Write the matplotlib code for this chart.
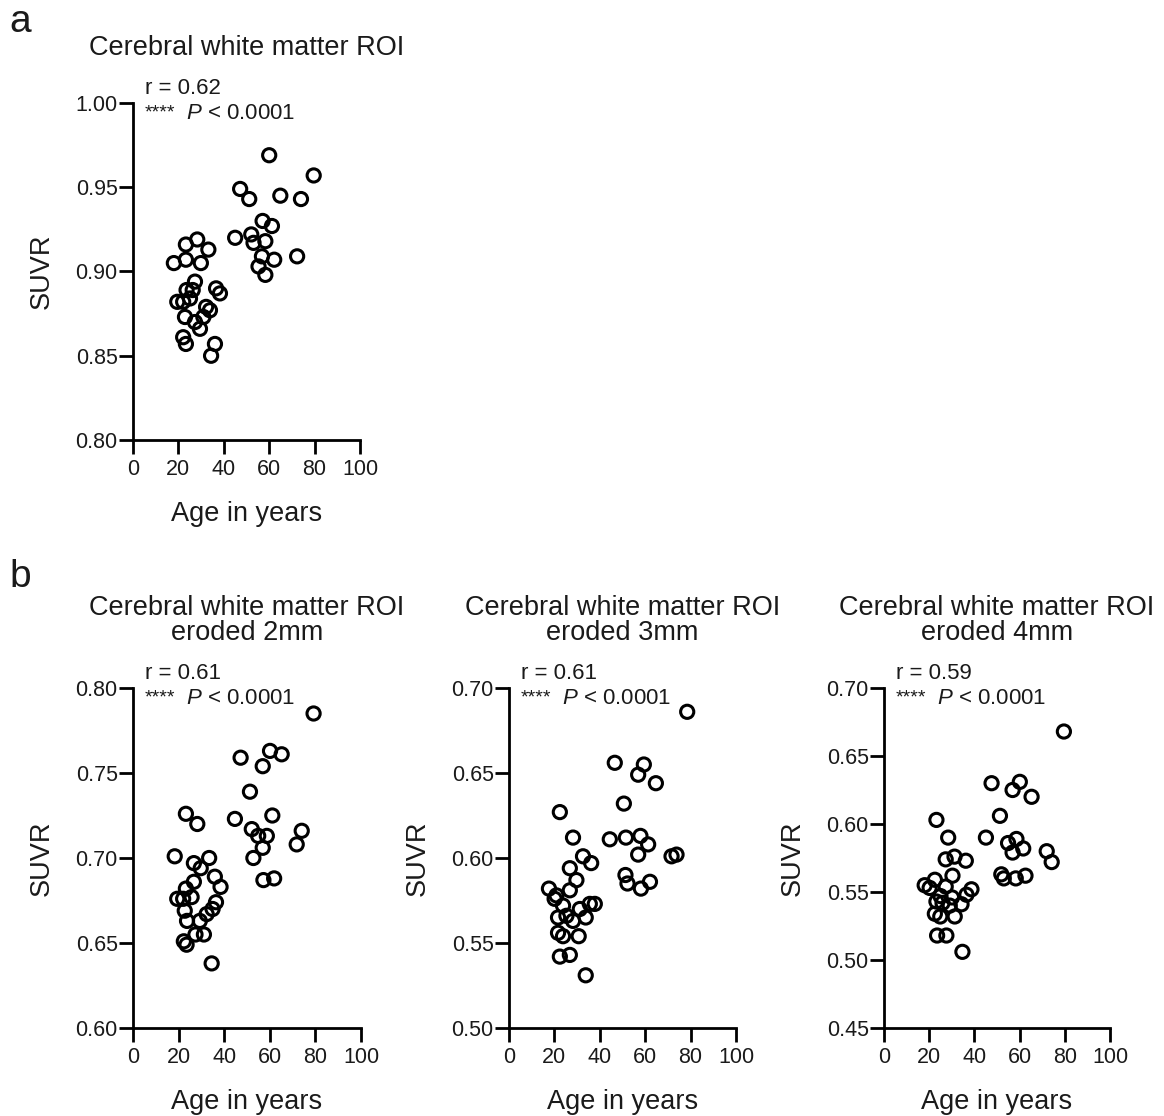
import matplotlib
matplotlib.use("Agg")
import matplotlib.pyplot as plt

plt.rcParams['font.family'] = ['Liberation Sans', 'DejaVu Sans']
plt.rcParams['mathtext.fontset'] = 'custom'
plt.rcParams['mathtext.rm'] = 'Liberation Sans'
plt.rcParams['mathtext.it'] = 'Liberation Sans:italic'

W, H = 1164, 1116
TXT = '#1a1a1a'

# panel a: cerebral white matter ROI
age_a = [60.0, 79.6, 47.2, 51.2, 64.9, 74.0, 57.1, 61.2, 45.0, 52.1, 53.1, 58.3,
         56.8, 62.2, 55.3, 58.3, 72.3,
         23.3, 28.3, 33.2, 18.0, 23.3, 29.9, 27.3, 23.6, 36.6, 38.3, 19.5, 22.1,
         25.1, 32.2, 33.9, 22.9, 27.3, 29.5, 31.0, 22.1, 23.3, 36.1, 34.4, 26.3]
suvr_a = [0.969, 0.957, 0.949, 0.943, 0.945, 0.943, 0.930, 0.927, 0.920, 0.922, 0.917, 0.918,
          0.909, 0.907, 0.903, 0.898, 0.909,
          0.916, 0.919, 0.913, 0.905, 0.907, 0.905, 0.894, 0.889, 0.890, 0.887, 0.882, 0.882,
          0.884, 0.879, 0.877, 0.873, 0.870, 0.866, 0.873, 0.861, 0.857, 0.857, 0.850, 0.889]

# panel b: eroded 2mm
age_b2 = [79.2, 47.2, 60.1, 65.2, 56.9, 51.3, 44.7, 61.1, 52.1, 54.9, 58.7, 56.9,
          52.8, 57.2, 61.9, 74.0, 71.8,
          23.2, 28.2, 18.3, 26.7, 29.7, 33.4, 35.9, 38.4, 26.7, 23.2, 19.4, 22.0,
          25.7, 36.4, 22.7, 34.9, 32.3, 23.7, 29.3, 27.4, 31.1, 22.3, 23.5, 34.5]
suvr_b2 = [0.785, 0.759, 0.763, 0.761, 0.754, 0.739, 0.723, 0.725, 0.717, 0.713, 0.713, 0.706,
           0.700, 0.687, 0.688, 0.716, 0.708,
           0.726, 0.720, 0.701, 0.697, 0.694, 0.700, 0.689, 0.683, 0.686, 0.682, 0.676, 0.676,
           0.677, 0.674, 0.669, 0.670, 0.667, 0.663, 0.663, 0.655, 0.655, 0.651, 0.649, 0.638]

# panel b: eroded 3mm
age_b3 = [78.5, 46.6, 59.4, 56.9, 64.7, 50.6, 44.4, 51.5, 57.9, 61.3, 56.9, 71.6,
          73.8, 51.3, 52.2, 58.1, 62.1,
          22.4, 28.2, 32.6, 36.2, 26.8, 29.7, 17.6, 20.9, 20.1, 26.8, 23.8, 31.2,
          35.6, 37.8, 33.8, 21.6, 25.3, 28.2, 21.6, 23.8, 30.7, 22.4, 26.8, 33.8]
suvr_b3 = [0.686, 0.656, 0.655, 0.649, 0.644, 0.632, 0.611, 0.612, 0.613, 0.608, 0.602, 0.601,
           0.602, 0.590, 0.585, 0.582, 0.586,
           0.627, 0.612, 0.601, 0.597, 0.594, 0.587, 0.582, 0.578, 0.576, 0.581, 0.572, 0.570,
           0.573, 0.573, 0.565, 0.565, 0.566, 0.563, 0.556, 0.554, 0.554, 0.542, 0.543, 0.531]

# panel b: eroded 4mm
age_b4 = [79.6, 47.6, 60.1, 56.9, 65.3, 51.3, 45.1, 54.9, 58.6, 61.6, 56.9, 72.0,
          74.2, 51.9, 53.0, 58.3, 62.6,
          23.2, 28.4, 27.3, 31.2, 36.2, 30.3, 18.0, 22.5, 20.2, 27.3, 38.7, 36.5,
          23.2, 25.9, 30.1, 34.3, 22.5, 24.9, 31.3, 29.1, 23.5, 27.6, 34.7, 25.0]
suvr_b4 = [0.668, 0.630, 0.631, 0.625, 0.620, 0.606, 0.590, 0.586, 0.589, 0.582, 0.579, 0.580,
           0.572, 0.563, 0.560, 0.560, 0.562,
           0.603, 0.590, 0.574, 0.576, 0.573, 0.562, 0.555, 0.559, 0.553, 0.554, 0.552, 0.548,
           0.543, 0.542, 0.546, 0.541, 0.534, 0.532, 0.532, 0.540, 0.518, 0.518, 0.506, 0.547]

panels = [
    dict(x=age_a, y=suvr_a, title="Cerebral white matter ROI", r="0.62",
         ylim=(0.80, 1.00), box=(133, 103, 360, 440)),
    dict(x=age_b2, y=suvr_b2, title="Cerebral white matter ROI\neroded 2mm", r="0.61",
         ylim=(0.60, 0.80), box=(133, 688, 361, 1028)),
    dict(x=age_b3, y=suvr_b3, title="Cerebral white matter ROI\neroded 3mm", r="0.61",
         ylim=(0.50, 0.70), box=(509, 688, 736, 1028)),
    dict(x=age_b4, y=suvr_b4, title="Cerebral white matter ROI\neroded 4mm", r="0.59",
         ylim=(0.45, 0.70), box=(884, 688, 1110, 1028)),
]


def fx(px):
    return px / W


def fy(py):
    return 1 - py / H


fig = plt.figure(figsize=(W / 100, H / 100), dpi=100)

for p in panels:
    x0, y0, x1, y1 = p["box"]
    ax = fig.add_axes([fx(x0), fy(y1), (x1 - x0) / W, (y1 - y0) / H])
    ax.scatter(p["x"], p["y"], s=90, facecolors='none', edgecolors='black',
               linewidths=2.2, clip_on=False, zorder=3)
    ax.set_xlim(0, 100)
    ax.set_ylim(*p["ylim"])
    ax.set_xticks(range(0, 101, 20))
    lo, hi = p["ylim"]
    n = int(round((hi - lo) / 0.05))
    ax.set_yticks([lo + 0.05 * i for i in range(n + 1)])
    ax.yaxis.set_major_formatter(matplotlib.ticker.FormatStrFormatter('%.2f'))
    for s in ["top", "right"]:
        ax.spines[s].set_visible(False)
    for s in ["left", "bottom"]:
        ax.spines[s].set_linewidth(2.0)
    ax.tick_params(width=2.0, length=10, labelsize=15.5, colors='black', labelcolor=TXT)
    ax.tick_params(axis='x', pad=4)
    ax.tick_params(axis='y', pad=1)

    cx = (x0 + x1) / 2
    fig.text(fx(x0 - 91), fy((y0 + y1) / 2), "SUVR", rotation=90, ha='center', va='center',
             fontsize=19.5, color=TXT)
    fig.text(fx(cx), fy(y1 + 81), "Age in years", ha='center', va='baseline',
             fontsize=19.5, color=TXT)

    lines = p["title"].split("\n")
    if len(lines) == 1:
        fig.text(fx(cx), fy(55), lines[0], ha='center', va='baseline', fontsize=19.5, color=TXT)
    else:
        fig.text(fx(cx), fy(615), lines[0], ha='center', va='baseline', fontsize=19.5, color=TXT)
        fig.text(fx(cx), fy(640), lines[1], ha='center', va='baseline', fontsize=19.5, color=TXT)

    tx = x0 + 12
    fig.text(fx(tx), fy(y0 - 9), "r = " + p["r"], ha='left', va='baseline',
             fontsize=16, color=TXT)
    fig.text(fx(tx), fy(y0 + 14), "****", ha='left', va='baseline',
             fontsize=14, color=TXT)
    fig.text(fx(tx + 41), fy(y0 + 16), r"$\mathit{P}$ < 0.0001", ha='left', va='baseline',
             fontsize=16, color=TXT)

fig.text(fx(9), fy(32), "a", fontsize=28, color=TXT, va='baseline')
fig.text(fx(9), fy(587), "b", fontsize=28, color=TXT, va='baseline')

fig.savefig("out.png", dpi=100, facecolor='white')
